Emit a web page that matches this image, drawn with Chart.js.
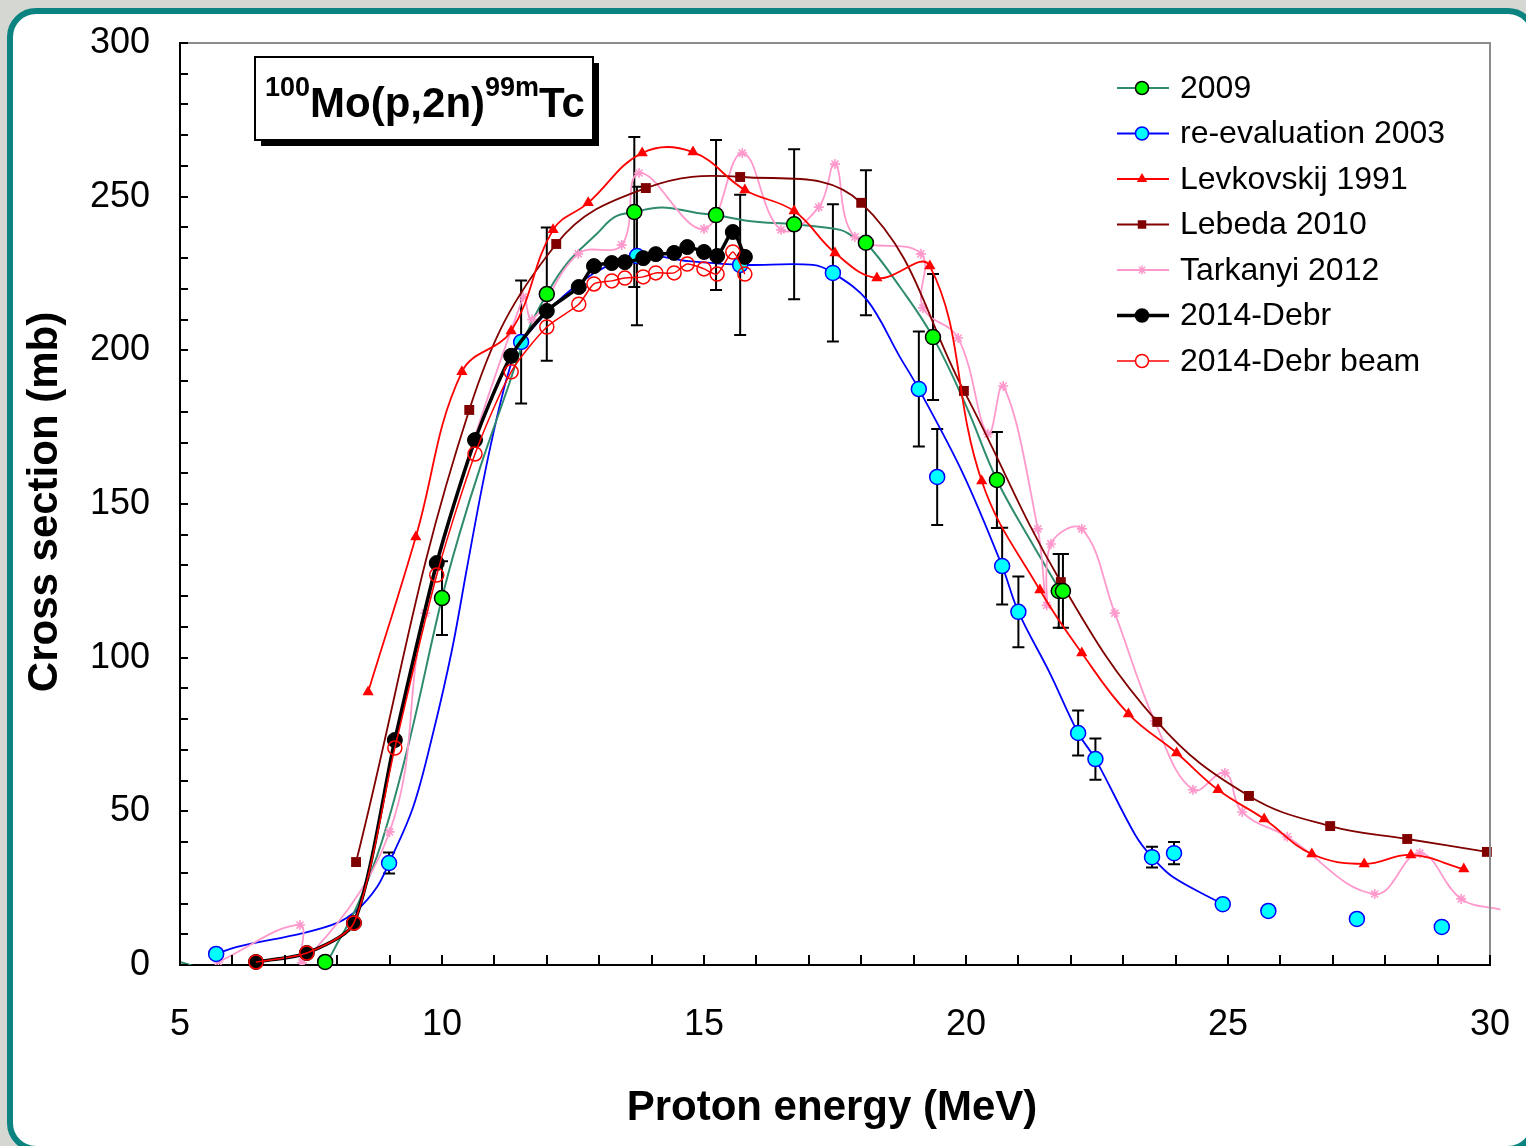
<!DOCTYPE html>
<html>
<head>
<meta charset="utf-8">
<title>100Mo(p,2n)99mTc cross section</title>
<script src="https://cdn.jsdelivr.net/npm/chart.js@4.4.1/dist/chart.umd.min.js"></script>
<style>
  html, body { margin: 0; padding: 0; background: #d5d7d2; }
  canvas { display: block; }
</style>
</head>
<body>
<canvas id="xs" width="1526" height="1146"></canvas>
<script>
const FONT = "'Liberation Sans', Arial, Helvetica, sans-serif";

// 2009 evaluation: smooth curve and the points shown with markers
const eval09CurveE = [5.0, 5.6, 6.4, 7.2, 7.77, 8.0, 8.4, 8.85, 9.35, 10.0, 10.34, 10.73, 11.24, 11.62, 12.0, 12.39, 12.96, 13.3, 13.67, 14.2, 14.87, 15.23, 15.9, 16.72, 17.6, 17.85, 18.09, 18.74, 19.37, 20.0, 20.59, 21.2, 21.8];
const eval09CurveS = [1, -2, -5, -4, 1, 7, 20, 40, 71, 119.4, 140.6, 162, 187, 205.6, 218.3, 228.4, 238, 243.4, 245, 246.5, 244.7, 244, 242, 241, 239.2, 237, 235, 220.6, 204.3, 182, 157.8, 139, 121.7];
const eval09E   = [7.77, 10.0, 12.0, 13.67, 15.23, 16.72, 18.09, 19.37, 20.59, 21.77, 21.85];
const eval09S   = [1, 119.4, 218.3, 245, 244, 241, 235, 204.3, 157.8, 121.7, 121.7];
const eval09Err = [0, 12, 21.7, 24.4, 24.4, 24.4, 23.6, 20.5, 15.6, 12, 12];

// re-evaluation 2003: curve and data points
const reev03CurveE = [5.69, 6.09, 7.35, 8.0, 8.38, 8.76, 8.99, 9.45, 9.83, 10.19, 10.48, 10.78, 11.05, 11.3, 11.51, 12.63, 13.72, 14.7, 15.69, 17.08, 17.46, 18.11, 18.74, 19.1, 19.94, 20.69, 21.0, 21.6, 22.14, 22.47, 23.23, 23.55, 23.95, 24.9];
const reev03CurveS = [3.6, 5.9, 10.4, 13.7, 17.9, 25.4, 33.2, 51.4, 75.5, 102.5, 129.5, 156.8, 178.3, 194.6, 202.7, 222, 230.7, 229, 227.8, 227.8, 225.2, 216.4, 197.8, 187.4, 160, 129.8, 114.9, 95, 75.5, 67, 42.3, 35.1, 28.6, 19.8];
const reev03E   = [5.69, 8.99, 11.51, 13.72, 15.69, 17.46, 19.1, 19.45, 20.69, 21.0, 22.14, 22.47, 23.55, 23.97, 24.9, 25.77, 27.46, 29.08];
const reev03S   = [3.6, 33.2, 202.7, 230.7, 227.8, 225.2, 187.4, 158.8, 129.8, 114.9, 75.5, 67, 35.1, 36.4, 19.8, 17.6, 15, 12.4];
const reev03Err = [0, 3.4, 20, 22.5, 22.8, 22.3, 18.7, 15.6, 12.5, 11.5, 7.3, 6.7, 3.4, 3.6, 1, 0.6, 0.6, 0.6];

// Levkovskij 1991
const levkE = [8.59, 9.5, 10.38, 11.32, 12.12, 12.79, 13.82, 14.79, 15.78, 16.72, 17.5, 18.3, 19.31, 20.3, 21.41, 22.21, 23.1, 24.02, 24.81, 25.69, 26.6, 27.6, 28.49, 29.5];
const levkS = [88.8, 139.3, 193, 206.3, 239.2, 248, 264.2, 264.5, 252.2, 245.3, 231.7, 223.5, 227.4, 157.5, 122, 101.5, 81.7, 69, 57, 47.5, 36.1, 32.9, 35.8, 31.2];

// Lebeda 2010
const lebE = [8.36, 10.52, 12.18, 13.89, 15.69, 18.0, 19.96, 21.81, 23.65, 25.4, 26.95, 28.42, 29.94];
const lebS = [33.5, 180.6, 234.6, 252.8, 256.4, 248, 186.8, 124.6, 79.1, 55, 45.2, 41, 36.8];

// Tarkanyi 2012
const tarkE = [5.73, 7.29, 7.33, 9.0, 9.68, 11.55, 11.72, 12.6, 13.43, 13.76, 15.0, 15.73, 16.47, 17.19, 17.5, 17.88, 19.14, 19.18, 19.85, 20.42, 20.71, 21.37, 21.54, 21.62, 22.21, 22.84, 23.6, 24.33, 24.94, 25.27, 26.13, 27.8, 28.66, 29.45, 30.2];
const tarkS = [1, 13, 0.7, 43.3, 114.5, 217.4, 210, 231.4, 234.3, 257.7, 239.5, 264.2, 239.2, 246.6, 260.6, 236.9, 231.4, 213.8, 204, 172.8, 188.4, 141.9, 117, 137, 141.9, 114.5, 79.4, 57, 62.5, 49.8, 41.7, 23.1, 36.4, 21.5, 18];

// 2014 Debrecen measurement, and the same with beam correction
const debrE     = [6.45, 7.42, 8.32, 9.1, 9.9, 10.63, 11.32, 12.0, 12.61, 12.9, 13.24, 13.49, 13.84, 14.08, 14.43, 14.68, 15.0, 15.25, 15.55, 15.78];
const debrS     = [1, 3.9, 13.7, 73.2, 130.8, 170.8, 198.2, 212.8, 220.6, 227.4, 228.4, 228.7, 230, 231.3, 231.7, 233.6, 232, 230.7, 238.5, 230.4];
const debrBeamS = [1, 3.9, 13.7, 70.6, 126.9, 166.3, 193, 207.6, 215, 221.6, 222.6, 223.5, 223.9, 225.2, 225.2, 228.1, 226.5, 224.8, 232, 224.8];

const xTicks = [5, 10, 15, 20, 25, 30];
const yTicks = [0, 50, 100, 150, 200, 250, 300];

const pts = (xs, ys) => xs.map((x, i) => ({ x, y: ys[i] }));

const TEAL = '#2e8b6e', BLUE = '#0000ff', RED = '#ff0000', MAROON = '#800000', PINK = '#ff99cc';

const datasets = [
  { label: '2009', data: pts(eval09CurveE, eval09CurveS), showLine: true, borderColor: TEAL, borderWidth: 2,
    pointRadius: 0, tension: 0.4, order: 10, clip: 0 },
  { label: 're-evaluation 2003', data: pts(reev03CurveE, reev03CurveS), showLine: true, borderColor: BLUE, borderWidth: 1.8,
    pointRadius: 0, tension: 0.35, order: 10, clip: 0 },
  { label: 'Tarkanyi 2012', data: pts(tarkE, tarkS), showLine: true, borderColor: PINK, borderWidth: 1.8,
    pointStyle: 'star', pointRadius: 5, pointBorderColor: PINK, pointBorderWidth: 1.6,
    tension: 0.4, order: 9, clip: { left: 0, top: 0, right: 12, bottom: 0 } },
  { label: 'Lebeda 2010', data: pts(lebE, lebS), showLine: true, borderColor: MAROON, borderWidth: 1.8,
    pointStyle: 'rect', pointRadius: 7, pointBackgroundColor: MAROON, pointBorderColor: MAROON, pointBorderWidth: 0,
    tension: 0.4, order: 8, clip: false },
  { label: 'Levkovskij 1991', data: pts(levkE, levkS), showLine: true, borderColor: RED, borderWidth: 1.8,
    pointStyle: 'triangle', pointRadius: 6.5, pointBackgroundColor: RED, pointBorderColor: RED, pointBorderWidth: 0,
    tension: 0.4, order: 7, clip: false },
  { label: 're-evaluation 2003', data: pts(reev03E, reev03S), showLine: false, errorBars: reev03Err,
    pointStyle: 'circle', pointRadius: 7.5, pointBackgroundColor: '#00ffff', pointBorderColor: BLUE, pointBorderWidth: 1.5,
    order: 5, clip: false },
  { label: '2009', data: pts(eval09E, eval09S), showLine: false, errorBars: eval09Err,
    pointStyle: 'circle', pointRadius: 7.5, pointBackgroundColor: '#00ff00', pointBorderColor: '#000', pointBorderWidth: 1.5,
    order: 4, clip: false },
  { label: '2014-Debr', data: pts(debrE, debrS), showLine: true, borderColor: '#000', borderWidth: 3.5,
    pointStyle: 'circle', pointRadius: 7.5, pointBackgroundColor: '#000', pointBorderColor: '#000', pointBorderWidth: 1,
    tension: 0.25, order: 3, clip: false },
  { label: '2014-Debr beam', data: pts(debrE, debrBeamS), showLine: true, borderColor: RED, borderWidth: 1.5,
    pointStyle: 'circle', pointRadius: 7, pointBackgroundColor: 'rgba(0,0,0,0)', pointBorderColor: RED, pointBorderWidth: 1.5,
    tension: 0.25, order: 2, clip: false }
];

// legend rows: line colour/width and marker
const legendRows = [
  { text: '2009', line: TEAL, lw: 2, style: 'circle', r: 6.5, fill: '#00ff00', stroke: '#000' },
  { text: 're-evaluation 2003', line: BLUE, lw: 1.8, style: 'circle', r: 6.5, fill: '#00ffff', stroke: BLUE },
  { text: 'Levkovskij 1991', line: RED, lw: 1.8, style: 'triangle', r: 6, fill: RED, stroke: null },
  { text: 'Lebeda 2010', line: MAROON, lw: 1.8, style: 'rect', r: 6, fill: MAROON, stroke: null },
  { text: 'Tarkanyi 2012', line: PINK, lw: 1.8, style: 'star', r: 4.5, fill: null, stroke: PINK },
  { text: '2014-Debr', line: '#000', lw: 3.5, style: 'circle', r: 6.5, fill: '#000', stroke: '#000' },
  { text: '2014-Debr beam', line: RED, lw: 1.5, style: 'circle', r: 6.5, fill: '#fff', stroke: RED }
];

function drawMarker(c, m, x, y) {
  c.beginPath();
  if (m.style === 'circle') {
    c.arc(x, y, m.r, 0, Math.PI * 2);
  } else if (m.style === 'triangle') {
    c.moveTo(x, y - m.r);
    c.lineTo(x + m.r * 0.866, y + m.r * 0.5);
    c.lineTo(x - m.r * 0.866, y + m.r * 0.5);
    c.closePath();
  } else if (m.style === 'rect') {
    const h = m.r * 0.707;
    c.rect(x - h, y - h, 2 * h, 2 * h);
  } else if (m.style === 'star') {
    const d = m.r * 0.707;
    c.moveTo(x - m.r, y); c.lineTo(x + m.r, y);
    c.moveTo(x, y - m.r); c.lineTo(x, y + m.r);
    c.moveTo(x - d, y - d); c.lineTo(x + d, y + d);
    c.moveTo(x - d, y + d); c.lineTo(x + d, y - d);
  }
  if (m.fill) { c.fillStyle = m.fill; c.fill(); }
  if (m.stroke) { c.strokeStyle = m.stroke; c.lineWidth = 1.5; c.stroke(); }
}

function roundRect(c, x, y, w, h, r) {
  c.beginPath();
  c.moveTo(x + r, y);
  c.arcTo(x + w, y, x + w, y + h, r);
  c.arcTo(x + w, y + h, x, y + h, r);
  c.arcTo(x, y + h, x, y, r);
  c.arcTo(x, y, x + w, y, r);
  c.closePath();
}

const decor = {
  id: 'decor',
  beforeDraw(chart) {
    const c = chart.ctx;
    c.save();
    c.fillStyle = '#d5d7d2';
    c.fillRect(0, 0, chart.width, chart.height);
    roundRect(c, 10, 11, 1524, 1138, 26);
    c.fillStyle = '#ffffff';
    c.fill();
    c.lineWidth = 6;
    c.strokeStyle = '#0b8380';
    c.stroke();
    c.restore();
  },
  beforeDatasetsDraw(chart) {
    // vertical error bars with caps
    const c = chart.ctx, xs = chart.scales.x, ys = chart.scales.y;
    c.save();
    c.strokeStyle = '#000';
    c.lineWidth = 2;
    chart.data.datasets.forEach(ds => {
      if (!ds.errorBars) return;
      ds.data.forEach((p, i) => {
        const e = ds.errorBars[i];
        if (!e) return;
        const px = xs.getPixelForValue(p.x);
        const top = ys.getPixelForValue(p.y + e), bot = ys.getPixelForValue(p.y - e);
        c.beginPath();
        c.moveTo(px, top); c.lineTo(px, bot);
        c.moveTo(px - 6, top); c.lineTo(px + 6, top);
        c.moveTo(px - 6, bot); c.lineTo(px + 6, bot);
        c.stroke();
      });
    });
    c.restore();
  },
  afterDraw(chart) {
    const c = chart.ctx, a = chart.chartArea, xs = chart.scales.x, ys = chart.scales.y;
    c.save();

    // gray top/right plot frame
    c.strokeStyle = '#8c8c8c';
    c.lineWidth = 2;
    c.beginPath();
    c.moveTo(a.left, a.top); c.lineTo(a.right, a.top); c.lineTo(a.right, a.bottom);
    c.stroke();

    // inward tick marks: 1 MeV and 10 mb
    c.strokeStyle = '#000';
    c.lineWidth = 2;
    c.beginPath();
    for (let e = 5; e <= 30; e++) {
      const px = Math.round(xs.getPixelForValue(e));
      c.moveTo(px, a.bottom); c.lineTo(px, a.bottom - 10);
    }
    for (let s = 0; s <= 300; s += 10) {
      const py = Math.round(ys.getPixelForValue(s));
      c.moveTo(a.left, py); c.lineTo(a.left + 8, py);
    }
    c.stroke();

    // reaction label box with drop shadow
    const bx = 255, by = 57, bw = 338, bh = 83;
    c.fillStyle = '#000';
    c.fillRect(bx + 6, by + 6, bw, bh);
    c.fillStyle = '#fff';
    c.fillRect(bx, by, bw, bh);
    c.lineWidth = 2;
    c.strokeStyle = '#000';
    c.strokeRect(bx, by, bw, bh);
    const parts = [['100', true], ['Mo(p,2n)', false], ['99m', true], ['Tc', false]];
    const big = 'bold 42px ' + FONT, small = 'bold 27px ' + FONT;
    let tw = 0;
    parts.forEach(([t, sup]) => { c.font = sup ? small : big; tw += c.measureText(t).width; });
    let tx = bx + (bw - tw) / 2 + 1;
    c.fillStyle = '#000';
    c.textAlign = 'left';
    c.textBaseline = 'alphabetic';
    parts.forEach(([t, sup]) => {
      c.font = sup ? small : big;
      c.fillText(t, tx, sup ? by + 39 : by + 60);
      tx += c.measureText(t).width;
    });

    // axis titles
    c.font = 'bold 42px ' + FONT;
    c.textAlign = 'center';
    c.textBaseline = 'middle';
    c.fillText('Proton energy (MeV)', 832, 1108);
    c.save();
    c.translate(45, 502);
    c.rotate(-Math.PI / 2);
    c.fillText('Cross section (mb)', 0, 0);
    c.restore();

    // legend
    c.font = '32px ' + FONT;
    c.textAlign = 'left';
    legendRows.forEach((row, i) => {
      const y = 88 + i * 45.5;
      c.strokeStyle = row.line;
      c.lineWidth = row.lw;
      c.beginPath();
      c.moveTo(1117, y); c.lineTo(1169, y);
      c.stroke();
      drawMarker(c, row, 1142, y);
      c.fillStyle = '#000';
      c.fillText(row.text, 1180, y + 1);
    });

    c.restore();
  }
};

new Chart(document.getElementById('xs'), {
  type: 'scatter',
  data: { datasets },
  options: {
    responsive: false,
    animation: false,
    devicePixelRatio: 1,
    layout: { padding: { left: 0, top: 43, right: 36, bottom: 0 } },
    plugins: { legend: { display: false }, tooltip: { enabled: false } },
    scales: {
      x: {
        type: 'linear', min: 5, max: 30,
        afterFit: s => { s.height = 181; s.paddingLeft = 0; s.paddingRight = 0; },
        afterBuildTicks: s => { s.ticks = xTicks.map(v => ({ value: v })); },
        grid: { display: true, drawOnChartArea: false, drawTicks: false },
        border: { display: true, color: '#000', width: 2 },
        ticks: { color: '#000', font: { family: FONT, size: 36 }, padding: 38, maxRotation: 0 }
      },
      y: {
        type: 'linear', min: 0, max: 300,
        afterFit: s => { s.width = 180; s.paddingTop = 0; s.paddingBottom = 0; },
        afterBuildTicks: s => { s.ticks = yTicks.map(v => ({ value: v })); },
        grid: { display: true, drawOnChartArea: false, drawTicks: false },
        border: { display: true, color: '#000', width: 2 },
        ticks: { color: '#000', font: { family: FONT, size: 36 }, padding: 30 }
      }
    }
  },
  plugins: [decor]
});
</script>
</body>
</html>
